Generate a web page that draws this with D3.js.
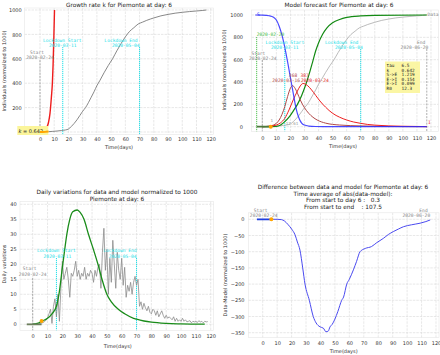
<!DOCTYPE html>
<html><head><meta charset="utf-8">
<script src="https://cdn.jsdelivr.net/npm/d3@7"></script>
<style>body{margin:0;background:#fff}svg{display:block}</style>
</head><body>
<script>
// ---------------- DATA ----------------
const xTicks = [0,10,20,30,40,50,60,70,80,90,100,110,120];
const tlYTicks = [0,200,400,600,800,1000];
const trYTicks = [0,200,400,600,800,1000];
const blYTicks = [0,5,10,15,20,25,30,35,40];
const brYTicks = [0,-50,-100,-150,-200,-250,-300,-350];

// cumulative data normalized to 1000 [day, value]
const cumData = [[0,0],[3,1],[6,3],[9,5],[12,8],[15,12],[18,17],[20,24],[22,45],[24,70],[26,100],[28,135],[30,170],[32,200],[34,240],[36,285],[38,330],[40,380],[42,420],[45,485],[48,545],[51,600],[54,665],[57,725],[60,780],[63,825],[66,855],[69,885],[72,900],[75,915],[80,935],[85,952],[90,964],[95,974],[100,981],[105,987],[110,992],[114,996],[117,1000]];
// exponential growth fit (k = 0.642)
const expFit = [[3,12],[4,22],[5,42],[6,80],[7,150],[8,285],[8.7,400],[9.2,550],[9.7,760],[10.2,1000]];
const fitData = [[0,0],[2,1],[4,2],[6,4]];

// model compartments [day, value]
const modelS = [[-5,1000],[0,999],[5,993],[8,980],[10,955],[12,900],[14,820],[16,710],[18,580],[20,440],[22,300],[24,165],[26,80],[27,52],[28,33],[30,15],[33,6],[38,2],[45,1],[60,0],[117,0]];
const modelE = [[0,0],[5,5],[8,15],[10,30],[12,60],[14,110],[16,180],[18,270],[20,345],[21.5,368],[23,350],[25,300],[27,240],[30,170],[33,120],[36,85],[39,60],[45,32],[55,15],[70,7],[85,3],[100,1],[117,0]];
const modelI = [[0,0],[5,3],[10,15],[13,35],[16,75],[19,150],[22,240],[25,320],[27,365],[29,387],[32,370],[35,330],[38,280],[41,230],[45,175],[50,120],[55,85],[60,60],[65,42],[70,30],[75,20],[80,14],[90,7],[100,4],[117,1]];
const modelR = [[0,0],[10,3],[13,15],[16,45],[19,85],[22,140],[25,200],[28,280],[31,380],[34,500],[36,590],[38,680],[40,750],[43,830],[46,885],[50,930],[55,960],[60,978],[70,992],[80,997],[117,1000]];
const params = [["tau","6.5"],["k","0.642"],["S->E","1.219"],["E->I","0.154"],["E->I","0.099"],["R0","12.3"]];
const peaks = [{day:21.5, value:368, date:"2020-03-16", color:"#b04848"},{day:29, value:387, date:"2020-03-24", color:"#e02020"}];

// daily variations (data) from day -4
const dailyStart = -4;
const dailyVals = [0,0,0,0,0,0.1,0.1,0.2,0.2,0.3,
  0.4,0.6,0.9,1.4,2.2,3.5,5,0.3,6,8.5,
  2.5,10,1,12,21,15,17,19,15,9,
  17,16,18,21,16,18,15,17,16,19,
  15,17,16,18,17,14,18,16,19,20,
  12,24,32,18,25,10,22,14,28,20,
  12,24,18,15,22,13,19,9,13,11,
  14,10,14,16,13,15,6,7.5,5,7,
  5.5,4.5,6,4,3.5,5,4.5,3,4.5,2.5,
  3.5,4.5,3,2,3,2,2.5,2,1.5,2.5,
  1,2,1,1.5,1,2,1,1.5,0.8,1,
  1.2,0.5,1,0.8,1,0.6,1.2,0.8,1,0.5,1,0.8,0.9];
// daily variations (model)
const dailyModel = [[0,0.05],[3,0.3],[6,1],[10,2],[13,3.5],[16,6],[18,11],[20,19],[22,26.5],[23,30],[25,35],[27,37.5],[30,38.1],[32,37.3],[34.6,35],[37.6,30],[40.9,25],[44,20],[47,14.5],[50,10],[53,7.5],[57.7,5],[62,3.5],[68,2],[70,1.7],[75,1.1],[80,0.7],[90,0.3],[100,0.15],[116,0.05]];
// difference data - model
const diffVals = [[6,0],[10,0],[13,-1],[15,-5],[17.7,-17],[20,-30],[22.4,-48],[24,-70],[25.8,-95],[27.7,-150],[29.3,-200],[32.3,-250],[35,-300],[37,-320],[39.7,-332],[42,-336],[43.8,-347],[45.4,-345],[46.6,-332],[48,-325],[50,-308],[52,-285],[54.7,-250],[56,-240],[58.2,-200],[60,-185],[62.8,-156],[65,-130],[67.4,-100],[71,-90],[75.4,-84],[79,-72],[83.5,-59],[87,-47],[90.4,-38],[94,-30],[97.4,-23],[103,-17],[109,-12],[113,-7],[116,-2]];
const fitWindow = [-4,6];
const currentDay = 6;

const events = {start:{day:0,label:"Start",date:"2020-02-24"}, lockStart:{day:16,label:"Lockdown Start",date:"2020-03-11"}, lockEnd:{day:70,label:"Lockdown End",date:"2020-05-04"}, end:{day:117,label:"End",date:"2020-06-20"}, first:{day:-4,date:"2020-02-20"}};

// ---------------- DRAWING ----------------
const FONT = "DejaVu Sans", MONO = "DejaVu Sans Mono";
const svg = d3.select("body").append("svg").attr("width",440).attr("height",355);
let clipN = 0;

function txt(g, x, y, s, o={}) {
  return g.append("text").attr("x",x).attr("y",y).text(s)
    .attr("font-family", o.mono ? MONO : FONT)
    .attr("font-size", o.size || 5)
    .attr("fill", o.fill || "#222")
    .attr("text-anchor", o.anchor || "middle")
    .attr("font-style", o.italic ? "italic" : null)
    .style("white-space","pre");
}

function panel(o) {
  const x = d3.scaleLinear().domain([0,120]).range(o.xr);
  const y = d3.scaleLinear().domain(o.yd).range(o.yr);
  const [L,T,R,B] = o.box;
  const g = svg.append("g");
  g.append("g").selectAll("line").data(xTicks).join("line")
    .attr("x1",d=>x(d)).attr("x2",d=>x(d)).attr("y1",T).attr("y2",B)
    .attr("stroke","#dedede").attr("stroke-width",0.7).attr("stroke-dasharray","2.5,1");
  g.append("g").selectAll("line").data(o.yTicks).join("line")
    .attr("y1",d=>y(d)).attr("y2",d=>y(d)).attr("x1",L).attr("x2",R)
    .attr("stroke","#dedede").attr("stroke-width",0.7).attr("stroke-dasharray","2.5,1");
  g.append("rect").attr("x",L).attr("y",T).attr("width",R-L).attr("height",B-T)
    .attr("fill","none").attr("stroke","#e6e6e6").attr("stroke-width",0.6);
  const ax = g.append("g").attr("transform",`translate(0,${B})`)
    .call(d3.axisBottom(x).tickValues(xTicks).tickSize(0).tickPadding(o.xPad));
  ax.select(".domain").remove();
  ax.attr("font-size",5).attr("font-family",FONT);
  ax.selectAll("text").attr("fill","#333");
  const ay = g.append("g").attr("transform",`translate(${L},0)`)
    .call(d3.axisLeft(y).tickValues(o.yTicks).tickSize(0).tickPadding(o.yPad)
      .tickFormat(d => d < 0 ? "\u2212" + (-d) : d));
  ay.select(".domain").remove();
  ay.attr("font-size",5).attr("font-family",FONT);
  ay.selectAll("text").attr("fill","#333");
  const id = "clip" + (clipN++);
  svg.append("clipPath").attr("id",id).append("rect").attr("x",L).attr("y",T).attr("width",R-L).attr("height",B-T);
  const p = g.append("g").attr("clip-path",`url(#${id})`);
  txt(g, (L+R)/2 + (o.xLabDx||0), o.xLabY, "Time(days)", {size:5, fill:"#333"});
  g.append("text").attr("transform",`translate(${o.yLabX},${o.yLabY}) rotate(-90)`)
    .attr("text-anchor","middle").attr("font-family",FONT).attr("font-size",5).attr("fill","#333").text(o.yLab);
  o.title.forEach((t,i)=> txt(g, o.titleX, o.titleY + i*6.7, t, {size:5.8, fill:"#222"}));
  return {g, p, x, y, L, T, R, B};
}

function curve(P, data, color, w, kind, extra) {
  const line = d3.line().x(d=>P.x(d[0])).y(d=>P.y(d[1])).curve(kind || d3.curveMonotoneX);
  const path = P.p.append("path").datum(data).attr("d",line).attr("fill","none")
    .attr("stroke",color).attr("stroke-width",w).attr("stroke-linejoin","round");
  if (extra) extra(path);
  return path;
}
function vline(P, day, top, color, dash, w) {
  P.p.append("line").attr("x1",P.x(day)).attr("x2",P.x(day)).attr("y1",top).attr("y2",P.B)
    .attr("stroke",color).attr("stroke-width",w||0.9).attr("stroke-dasharray",dash);
}
const CYAN = "#22e0e8", GRAYL = "#8a8a8a";

// ---- Top-left: growth rate ----
const TL = panel({xr:[40,210.7], yd:[0,1000], yr:[132,10], box:[24.5,8,213.5,134.5], yTicks:tlYTicks,
  xPad:2.8, yPad:2.8, xLabY:148.5, yLabX:6, yLabY:71, yLab:"Individuals (normalized to 1000)",
  title:["Growth rate k for Piemonte at day: 6"], titleX:119, titleY:6.5});
vline(TL, events.start.day, 60, GRAYL, "2,1.2", 0.7);
vline(TL, events.lockStart.day, 47, CYAN, "1.2,0.8", 1);
vline(TL, events.lockEnd.day, 47, CYAN, "1.2,0.8", 1);
curve(TL, cumData, "#7a7a7a", 0.9);
curve(TL, expFit, "#ee1c1c", 1.4);
txt(TL.g, TL.x(events.start.day)-3, 53.5, events.start.label, {mono:true, size:4.6, fill:"#888"});
txt(TL.g, TL.x(events.start.day), 58.5, events.start.date, {mono:true, size:4.6, fill:"#888"});
txt(TL.g, TL.x(events.lockStart.day)-0.5, 41.5, events.lockStart.label, {mono:true, size:4.6, fill:CYAN});
txt(TL.g, TL.x(events.lockStart.day), 46.5, events.lockStart.date, {mono:true, size:4.6, fill:CYAN});
txt(TL.g, TL.x(events.lockEnd.day)-2, 41.5, events.lockEnd.label, {mono:true, size:4.6, fill:CYAN, anchor:"end"});
txt(TL.g, TL.x(events.lockEnd.day), 46.5, events.lockEnd.date, {mono:true, size:4.6, fill:CYAN, anchor:"end"});
TL.g.append("rect").attr("x",17.3).attr("y",126).attr("width",31).attr("height",9).attr("fill","#fbf59a");
txt(TL.g, 18.5, 132.6, "k", {size:5.2, italic:true, anchor:"start"});
txt(TL.g, 23, 132.6, "= 0.642", {size:5, anchor:"start"});
TL.g.append("path").datum(fitData).attr("d", d3.line().x(d=>TL.x(d[0])).y(d=>TL.y(d[1])))
  .attr("fill","none").attr("stroke","orange").attr("stroke-width",2);

// ---- Top-right: model forecast ----
const TR = panel({xr:[262.3,431], yd:[0,1000], yr:[126.7,15], box:[251.5,10,438.5,131.5], yTicks:trYTicks,
  xPad:5, yPad:8.5, xLabY:148, xLabDx:-2, yLabX:226, yLabY:70, yLab:"Individuals (normalized to 1000)",
  title:["Model forecast for Piemonte at day: 6"], titleX:339, titleY:6.5});
vline(TR, events.first.day, 37, "#44bb44", "1.2,0.8", 0.9);
vline(TR, events.start.day, 60, GRAYL, "2,1.2", 0.7);
vline(TR, events.lockStart.day, 49, CYAN, "1.2,0.8", 1);
vline(TR, events.lockEnd.day, 49, CYAN, "1.2,0.8", 1);
vline(TR, events.end.day, 49, GRAYL, "2,1.2", 0.7);
curve(TR, cumData, "#aaaaaa", 0.8);
curve(TR, modelR, "#138a13", 1.2);
curve(TR, modelE, "#b04848", 1);
curve(TR, modelI, "#ee2020", 1);
curve(TR, modelS, "#2a2aff", 1.2, null, p=>p.attr("stroke-opacity",0.85));
TR.p.append("line").attr("x1",TR.x(fitWindow[0])).attr("x2",TR.x(fitWindow[1])).attr("y1",TR.y(0)).attr("y2",TR.y(0))
  .attr("stroke","#4d7a3d").attr("stroke-width",1.8);
TR.p.append("circle").attr("cx",TR.x(currentDay)).attr("cy",TR.y(0)).attr("r",2).attr("fill","orange");
// peak labels (value above, date below)
txt(TR.g, TR.x(peaks[0].day)+0.5, TR.y(peaks[0].value)-9, String(peaks[0].value), {mono:true, size:4.6, fill:peaks[0].color});
txt(TR.g, TR.x(peaks[1].day)+1.5, TR.y(peaks[1].value)-6.5, String(peaks[1].value), {mono:true, size:4.6, fill:peaks[1].color});
txt(TR.g, TR.x(peaks[0].day)+7.5, 82.3, peaks[0].date, {mono:true, size:4.6, fill:peaks[0].color, anchor:"end"});
txt(TR.g, TR.x(peaks[1].day)-2, 82.3, peaks[1].date, {mono:true, size:4.6, fill:peaks[1].color, anchor:"start"});
txt(TR.g, TR.x(events.first.day), 35.5, events.first.date, {mono:true, size:4.6, fill:"#44bb44", anchor:"start"});
txt(TR.g, TR.x(events.start.day)-4, 54.5, events.start.label, {mono:true, size:4.6, fill:"#888"});
txt(TR.g, TR.x(events.start.day)+0.5, 59.5, events.start.date, {mono:true, size:4.6, fill:"#888"});
txt(TR.g, TR.x(events.lockStart.day), 43.5, events.lockStart.label, {mono:true, size:4.6, fill:CYAN});
txt(TR.g, TR.x(events.lockStart.day), 48.5, events.lockStart.date, {mono:true, size:4.6, fill:CYAN});
txt(TR.g, TR.x(events.lockEnd.day)-2.5, 43.5, events.lockEnd.label, {mono:true, size:4.6, fill:CYAN, anchor:"end"});
txt(TR.g, TR.x(events.lockEnd.day)+2, 48.5, events.lockEnd.date, {mono:true, size:4.6, fill:CYAN, anchor:"end"});
txt(TR.g, TR.x(events.end.day)-1.5, 43.5, events.end.label, {mono:true, size:4.6, fill:"#888", anchor:"end"});
txt(TR.g, TR.x(events.end.day)+1.5, 48.5, events.end.date, {mono:true, size:4.6, fill:"#888", anchor:"end"});
txt(TR.g, 258.5, 15.5, "S", {mono:true, size:4.6, fill:"#2a2aff"});
txt(TR.g, 427.5, 15.5, "Data", {mono:true, size:4.6, fill:"#888", anchor:"start"});
txt(TR.g, 429.5, 124, "I", {mono:true, size:4.6, fill:"#ee2020"});
txt(TR.g, 271.7, 121.5, "1", {mono:true, size:4.2, fill:"#999"});
txt(TR.g, 292, 125, "17.61", {mono:true, size:4.2, fill:"#999"});
TR.g.append("rect").attr("x",385).attr("y",61.5).attr("width",35).attr("height",31.5).attr("fill","#fbf59a").attr("fill-opacity",0.9);
params.forEach((r,i)=>{
  txt(TR.g, 386.5, 67.1 + i*4.55, r[0], {mono:true, size:4.4, anchor:"start"});
  txt(TR.g, 401.5, 67.1 + i*4.55, r[1], {mono:true, size:4.4, anchor:"start"});
});

// ---- Bottom-left: daily variations ----
const BL = panel({xr:[32.7,210.7], yd:[0,40], yr:[324.3,204.3], box:[20,201.5,213.5,330.5], yTicks:blYTicks,
  xPad:4.4, yPad:3.3, xLabY:347.8, xLabDx:1, yLabX:6, yLabY:264, yLab:"Daily variations",
  title:["Daily variations for data and model normalized to 1000","Piemonte at day: 6"], titleX:117, titleY:193.8});
vline(BL, events.start.day, 278, GRAYL, "2,1.2", 0.7);
vline(BL, events.lockStart.day, 258, CYAN, "1.2,0.8", 1);
vline(BL, events.lockEnd.day, 258, CYAN, "1.2,0.8", 1);
curve(BL, dailyVals.map((v,i)=>[dailyStart+i, v]), "#8a8a8a", 0.8, d3.curveLinear);
curve(BL, dailyModel, "#1a8c1a", 1.3);
BL.p.append("line").attr("x1",BL.x(fitWindow[0])).attr("x2",BL.x(fitWindow[1])).attr("y1",BL.y(0)).attr("y2",BL.y(0))
  .attr("stroke","#6d7f5d").attr("stroke-width",1.8);
BL.p.append("circle").attr("cx",BL.x(currentDay)).attr("cy",BL.y(1.1)).attr("r",2).attr("fill","orange");
txt(BL.g, BL.x(events.start.day)-3, 270, events.start.label, {mono:true, size:4.6, fill:"#888"});
txt(BL.g, BL.x(events.start.day), 276, events.start.date, {mono:true, size:4.6, fill:"#888"});
txt(BL.g, BL.x(events.lockStart.day), 252.2, events.lockStart.label, {mono:true, size:4.6, fill:CYAN});
txt(BL.g, BL.x(events.lockStart.day)+1, 257.5, events.lockStart.date, {mono:true, size:4.6, fill:CYAN});
txt(BL.g, BL.x(events.lockEnd.day), 252.2, events.lockEnd.label, {mono:true, size:4.6, fill:CYAN, anchor:"end"});
txt(BL.g, BL.x(events.lockEnd.day), 257.5, events.lockEnd.date, {mono:true, size:4.6, fill:CYAN, anchor:"end"});

// ---- Bottom-right: difference ----
const BR = panel({xr:[262.7,436], yd:[0,-350], yr:[219.3,332.7], box:[248.3,212.8,439,337.6], yTicks:brYTicks,
  xPad:3.9, yPad:3.8, xLabY:352.8, xLabDx:0, yLabX:226.5, yLabY:275, yLab:"Data-Model (normalized to 1000)",
  title:["Difference between data and model for Piemonte at day: 6","Time average of abs(data-model):","From start to day 6 :   0.3","From start to end    : 107.5"], titleX:343, titleY:188.8});
curve(BR, diffVals, "#4a4af0", 1);
BR.p.append("line").attr("x1",BR.x(fitWindow[0])).attr("x2",BR.x(fitWindow[1])).attr("y1",BR.y(0)).attr("y2",BR.y(0))
  .attr("stroke","#1f3fe0").attr("stroke-width",1.8);
BR.p.append("circle").attr("cx",BR.x(currentDay)).attr("cy",BR.y(0)).attr("r",2).attr("fill","orange");
txt(BR.g, BR.x(events.start.day)-2, 211.8, events.start.label, {mono:true, size:4.6, fill:"#888"});
txt(BR.g, BR.x(events.start.day)+1, 216.8, events.start.date, {mono:true, size:4.6, fill:"#888"});
txt(BR.g, BR.x(events.end.day)-4, 211.8, events.end.label, {mono:true, size:4.6, fill:"#888", anchor:"end"});
txt(BR.g, BR.x(events.end.day)-1.5, 216.8, events.end.date, {mono:true, size:4.6, fill:"#888", anchor:"end"});
</script>
</body></html>
